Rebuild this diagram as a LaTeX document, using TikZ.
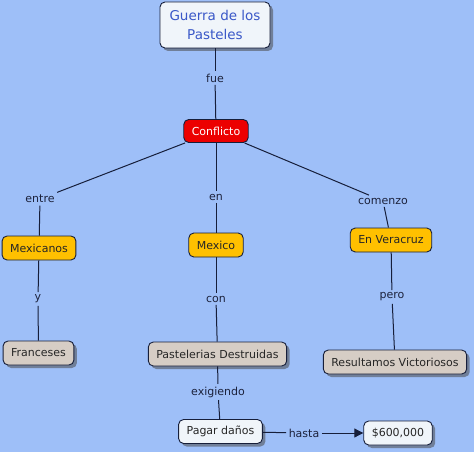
\documentclass[tikz,border=0pt]{standalone}
\usepackage{fontspec}
\setmainfont{DejaVu Sans}
\usetikzlibrary{arrows.meta, shadows}
\definecolor{fondoMapa}{RGB}{158,191,248}
\definecolor{lineaMapa}{RGB}{22,30,58}
\definecolor{textoMapa}{RGB}{28,34,60}
\definecolor{azulTitulo}{RGB}{58,88,200}
\definecolor{blancoMapa}{RGB}{240,245,250}
\definecolor{rojoMapa}{RGB}{236,0,0}
\definecolor{amarilloMapa}{RGB}{255,192,0}
\definecolor{grisMapa}{RGB}{214,205,197}

\begin{document}
\begin{tikzpicture}[x=1pt, y=-1pt,
            concepto/.style={rectangle, rounded corners=5pt, draw=lineaMapa, line width=0.9pt, minimum height=24pt, inner xsep=8pt, font=\fontsize{11}{13}\selectfont, text=textoMapa},
            sombra/.style={drop shadow={shadow xshift=3pt, shadow yshift=-3pt, fill=black!70, opacity=0.55}},
            titulo/.style={concepto, sombra, fill=blancoMapa, text=azulTitulo, align=center, minimum width=110pt, minimum height=46pt, font=\fontsize{13.5}{19.5}\selectfont},
            rojo/.style={concepto, fill=rojoMapa, text=white, minimum height=23pt},
            amarillo/.style={concepto, fill=amarilloMapa, text=black!85},
            gris/.style={concepto, sombra, fill=grisMapa, text=black!85},
            blanco/.style={concepto, sombra, fill=blancoMapa, text=black!85},
            enlace/.style={font=\fontsize{11}{13}\selectfont, text=textoMapa, inner sep=2.5pt},
            linea/.style={draw=lineaMapa, line width=1pt},
            flecha/.style={linea, -{Triangle[length=9pt, width=9pt]}}]

            \useasboundingbox[fill=fondoMapa] (0,0) rectangle (474,452);

            % conceptos
            \node[titulo] (guerra) at (215,25) {Guerra de los\\Pasteles};
            \node[rojo] (conf) at (216,131) {Conflicto};
            \node[amarillo] (mexicanos) at (39,248) {Mexicanos};
            \node[amarillo] (mexico) at (216,245) {Mexico};
            \node[amarillo] (veracruz) at (391,240) {En Veracruz};
            \node[gris] (franceses) at (38.5,353) {Franceses};
            \node[gris] (pasteleria) at (217.5,354) {Pastelerias Destruidas};
            \node[gris] (victoria) at (395,362) {Resultamos Victoriosos};
            \node[blanco] (pagar) at (220.5,431.5) {Pagar daños};
            \node[blanco] (monto) at (398,433) {\$600,000};

            % enlaces
            \node[enlace] (fue) at (215,78) {fue};
            \node[enlace] (entre) at (40,199) {entre};
            \node[enlace] (en) at (216,197) {en};
            \node[enlace] (comenzo) at (383,201) {comenzo};
            \node[enlace] (y) at (38,299) {y};
            \node[enlace] (con) at (216,299) {con};
            \node[enlace] (pero) at (392,297) {pero};
            \node[enlace] (exig) at (218,392) {exigiendo};
            \node[enlace] (hasta) at (304,433) {hasta};

            \draw[linea] (guerra) -- (fue);
            \draw[linea] (fue) -- (conf);
            \draw[linea] (conf) -- (entre);
            \draw[linea] (conf) -- (en);
            \draw[linea] (conf) -- (comenzo);
            \draw[linea] (entre) -- (mexicanos);
            \draw[linea] (en) -- (mexico);
            \draw[linea] (comenzo) -- (veracruz);
            \draw[linea] (mexicanos) -- (y);
            \draw[linea] (y) -- (franceses);
            \draw[linea] (mexico) -- (con);
            \draw[linea] (con) -- (pasteleria);
            \draw[linea] (veracruz) -- (pero);
            \draw[linea] (pero) -- (victoria);
            \draw[linea] (pasteleria) -- (exig);
            \draw[linea] (exig) -- (pagar);
            \draw[linea] (pagar) -- (hasta);
            \draw[flecha] (hasta) -- (monto);
        \end{tikzpicture}
\end{document}
